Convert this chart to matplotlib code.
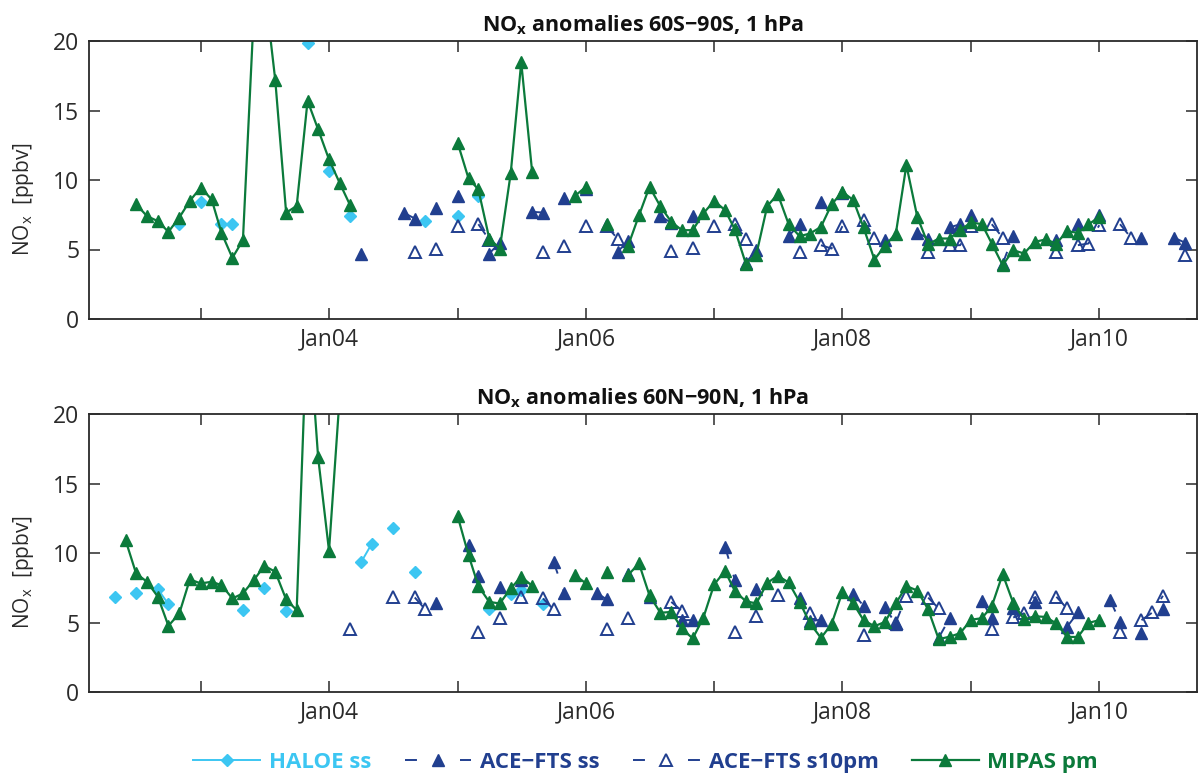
import numpy as np
import pandas as pd
import matplotlib
matplotlib.use("Agg")
import matplotlib.pyplot as plt
import matplotlib.dates as mdates
from matplotlib.lines import Line2D
from matplotlib.ticker import FuncFormatter

nan = np.nan
FONT = ["Open Sans", "DejaVu Sans"]
plt.rcParams["font.family"] = FONT
plt.rcParams["mathtext.fontset"] = "custom"
plt.rcParams["mathtext.rm"] = "Open Sans"
plt.rcParams["mathtext.bf"] = "Open Sans:bold"
plt.rcParams["mathtext.it"] = "Open Sans:italic"
plt.rcParams["lines.scale_dashes"] = False

# ---------------- data (NOx anomalies, ppbv, monthly) ----------------
# MIPAS: consecutive months from the given start, nan = no data
sh_mipas_start = "2002-07"
sh_mipas = [8.26, 7.40, 7.04, 6.27, 7.30, 8.50,                       # 2002 Jul-Dec
            9.46, 8.60, 6.20, 4.40, 5.67, 22.0, 24.0, 17.2, 7.64, 8.14, 15.7, 13.64,  # 2003
            11.48, 9.75, 8.19, nan, nan, nan, nan, nan, nan, nan, nan, nan,           # 2004
            12.68, 10.11, 9.32, 5.79, 5.07, 10.47, 18.47, 10.59, nan, nan, nan, 8.86,  # 2005
            9.51, nan, 6.82, nan, 5.26, 7.45, 9.51, 8.10, 6.99, 6.39, 6.39, 7.59,      # 2006
            8.50, 7.83, 6.44, 3.99, 4.64, 8.12, 8.98, 6.82, 5.96, 6.15, 6.63, 8.24,    # 2007
            9.15, 8.55, 6.59, 4.28, 5.26, 6.15, 11.07, 7.35, 5.37, 5.79, 5.79, 6.39,   # 2008
            6.95, 6.82, 5.43, 3.87, 4.95, 4.71, 5.55, 5.72, 5.43, 6.32, 6.20, 6.80,    # 2009
            7.35]                                                                       # 2010

nh_mipas_start = "2002-06"
nh_mipas = [10.93, 8.53, 7.93, 6.85, 4.76, 5.65, 8.10,                # 2002 Jun-Dec
            7.81, 7.93, 7.69, 6.73, 7.09, 8.05, 9.08, 8.65, 6.66, 5.89, 27.5, 16.89,  # 2003
            10.16, 21.5, nan, nan, nan, nan, nan, nan, nan, nan, nan, nan,            # 2004
            12.66, 9.85, 7.62, 6.48, 6.37, 7.45, 8.29, 7.64, nan, nan, nan, 8.41,     # 2005
            7.81, nan, 8.65, nan, 8.41, 9.25, 6.95, 5.70, 5.76, 4.57, 3.85, 5.33,     # 2006
            7.74, 8.70, 7.26, 6.53, 6.37, 7.85, 8.36, 7.88, 6.48, 4.93, 3.89, 4.88,   # 2007
            7.20, 6.37, 5.17, 4.73, 5.04, 6.37, 7.62, 7.30, 5.94, 3.80, 3.98, 4.23,   # 2008
            5.20, 5.31, 6.17, 8.48, 6.41, 5.22, 5.45, 5.40, 4.93, 3.96, 3.96, 4.97,   # 2009
            5.17]                                                                      # 2010

# HALOE sunset
sh_haloe_months = ["2002-11", "2003-01", "2003-03", "2003-04", "2003-11", "2004-01",
                   "2004-03", "2004-10", "2005-01", "2005-03"]
sh_haloe = [6.87, 8.43, 6.87, 6.80, 19.84, 10.64, 7.40, 7.04, 7.42, 8.86]

nh_haloe_months = ["2002-05", "2002-07", "2002-09", "2002-10", "2003-05", "2003-07",
                   "2003-09", "2004-04", "2004-05", "2004-07", "2004-09", "2005-04",
                   "2005-06", "2005-07", "2005-09"]
nh_haloe = [6.85, 7.13, 7.40, 6.32, 5.89, 7.49, 5.84, 9.32, 10.64, 11.77, 8.65,
            5.94, 7.04, 7.33, 6.32]

# ACE-FTS sunset
sh_ace_ss_months = ["2004-04", "2004-08", "2004-09", "2004-11", "2005-01", "2005-04",
                    "2005-05", "2005-08", "2005-09", "2005-11", "2006-01", "2006-04",
                    "2006-05", "2006-08", "2006-09", "2006-11", "2007-04", "2007-05",
                    "2007-08", "2007-09", "2007-11", "2008-01", "2008-05", "2008-08",
                    "2008-09", "2008-11", "2008-12", "2009-01", "2009-04", "2009-05",
                    "2009-09", "2009-11", "2010-01", "2010-05", "2010-08", "2010-09"]
sh_ace_ss = [4.66, 7.64, 7.23, 7.95, 8.86, 4.71, 5.50, 7.71, 7.66, 8.72, 9.32, 4.83,
             5.62, 7.40, 6.92, 7.40, 4.05, 4.95, 5.96, 6.82, 8.45, 9.03, 5.67, 6.22,
             5.79, 6.60, 6.81, 7.47, 3.99, 5.96, 5.67, 6.87, 7.47, 5.86, 5.86, 5.50]

nh_ace_ss_months = ["2004-11", "2005-02", "2005-03", "2005-05", "2005-07", "2005-10",
                    "2005-11", "2006-02", "2006-03", "2006-05", "2006-07", "2006-10",
                    "2006-11", "2007-02", "2007-03", "2007-05", "2007-09", "2007-10",
                    "2007-11", "2008-02", "2008-03", "2008-05", "2008-06", "2008-10",
                    "2008-11", "2009-02", "2009-03", "2009-05", "2009-07", "2009-10",
                    "2009-11", "2010-02", "2010-03", "2010-05", "2010-07"]
nh_ace_ss = [6.41, 10.57, 8.34, 7.52, 8.05, 9.37, 7.09, 7.13, 6.66, 8.50, 6.85, 5.17,
             5.17, 10.45, 8.05, 7.42, 6.77, 5.09, 5.20, 7.05, 6.21, 6.12, 4.88, 3.90,
             5.31, 6.58, 5.29, 6.01, 6.48, 4.68, 5.72, 6.61, 5.04, 4.25, 5.94]

# ACE-FTS sunset, 10 pm local time
sh_ace_10_months = ["2004-09", "2004-11", "2005-01", "2005-03", "2005-04", "2005-09",
                    "2005-11", "2006-01", "2006-03", "2006-04", "2006-09", "2006-11",
                    "2007-01", "2007-03", "2007-04", "2007-09", "2007-11", "2007-12",
                    "2008-01", "2008-03", "2008-04", "2008-09", "2008-11", "2008-12",
                    "2009-01", "2009-03", "2009-04", "2009-09", "2009-11", "2009-12",
                    "2010-01", "2010-03", "2010-04", "2010-09"]
sh_ace_10 = [4.83, 5.07, 6.68, 6.82, 5.70, 4.83, 5.24, 6.68, 6.66, 5.79, 4.90, 5.14,
             6.68, 6.82, 5.79, 4.83, 5.31, 5.07, 6.68, 7.11, 5.86, 4.83, 5.31, 5.31,
             6.72, 6.82, 5.86, 4.83, 5.31, 5.43, 6.75, 6.82, 5.86, 4.59]

nh_ace_10_months = ["2004-03", "2004-07", "2004-09", "2004-10", "2005-03", "2005-05",
                    "2005-07", "2005-09", "2005-10", "2006-03", "2006-05", "2006-09",
                    "2006-10", "2007-03", "2007-05", "2007-07", "2007-10", "2008-03",
                    "2008-06", "2008-07", "2008-09", "2008-10", "2009-03", "2009-05",
                    "2009-06", "2009-07", "2009-09", "2009-10", "2010-03", "2010-05",
                    "2010-06", "2010-07"]
nh_ace_10 = [4.50, 6.85, 6.80, 5.94, 4.32, 5.29, 6.85, 6.73, 5.94, 4.50, 5.31, 6.48,
             5.84, 4.32, 5.45, 6.97, 5.69, 4.08, 5.00, 6.89, 6.79, 6.01, 4.54, 5.36,
             5.65, 6.85, 6.85, 6.01, 4.32, 5.17, 5.72, 6.92]

panel_titles = [r"NO$_\mathbf{x}$ anomalies 60S" + "\u2212" + "90S, 1 hPa",
                r"NO$_\mathbf{x}$ anomalies 60N" + "\u2212" + "90N, 1 hPa"]
legend_labels = ["HALOE ss", "ACE\u2212FTS ss", "ACE\u2212FTS s10pm", "MIPAS pm"]

C_HALOE = "#3cc6f2"
C_ACE = "#213f8f"
C_MIPAS = "#0b7a3b"
C_AX = "#2a2a2a"


def from_start(start, vals):
    idx = pd.date_range(start, periods=len(vals), freq="MS")
    return pd.Series(vals, index=idx, dtype=float)


def from_months(months, vals):
    s = pd.Series(vals, index=pd.to_datetime(months), dtype=float)
    full = pd.date_range(s.index.min(), s.index.max(), freq="MS")
    return s.reindex(full)


panels = [
    dict(haloe=from_months(sh_haloe_months, sh_haloe),
         ss=from_months(sh_ace_ss_months, sh_ace_ss),
         s10=from_months(sh_ace_10_months, sh_ace_10),
         mipas=from_start(sh_mipas_start, sh_mipas)),
    dict(haloe=from_months(nh_haloe_months, nh_haloe),
         ss=from_months(nh_ace_ss_months, nh_ace_ss),
         s10=from_months(nh_ace_10_months, nh_ace_10),
         mipas=from_start(nh_mipas_start, nh_mipas)),
]

W, H = 1198, 776
fig = plt.figure(figsize=(W / 100, H / 100), dpi=100)
ax_left, ax_right = 89, 1197
ax_boxes = [(41, 319), (414, 692)]

DASH = (9, 12)
haloe_kw = dict(color=C_HALOE, lw=1.4, marker="D", ms=6.5, mfc=C_HALOE, mec=C_HALOE)
ss_kw = dict(color=C_ACE, lw=1.4, linestyle=(0, DASH), marker="^", ms=8.5,
             mfc=C_ACE, mec=C_ACE)
s10_kw = dict(color=C_ACE, lw=1.4, linestyle=(0, DASH), marker="^", ms=8,
              mfc="none", mec=C_ACE, mew=1.4)
mipas_kw = dict(color=C_MIPAS, lw=1.6, marker="^", ms=8.5, mfc=C_MIPAS, mec=C_MIPAS)

xmin = pd.Timestamp("2002-02-17")
xmax = pd.Timestamp("2010-10-06")
years = [pd.Timestamp(f"{y}-01-01") for y in range(2003, 2011)]

TICK_FS = 16.5


def year_label(v, pos):
    d = mdates.num2date(v)
    return d.strftime("Jan%y") if d.year % 2 == 0 else ""


for i, (p, (ytop, ybot)) in enumerate(zip(panels, ax_boxes)):
    ax = fig.add_axes([ax_left / W, 1 - ybot / H, (ax_right - ax_left) / W,
                       (ybot - ytop) / H])
    ax.plot(p["haloe"].index, p["haloe"].values, **haloe_kw)
    ax.plot(p["ss"].index, p["ss"].values, **ss_kw)
    ax.plot(p["s10"].index, p["s10"].values, **s10_kw)
    ax.plot(p["mipas"].index, p["mipas"].values, **mipas_kw)

    ax.set_xlim(xmin, xmax)
    ax.set_ylim(0, 20)
    ax.set_yticks([0, 5, 10, 15, 20])
    ax.set_xticks(years)
    ax.xaxis.set_major_formatter(FuncFormatter(year_label))
    ax.tick_params(direction="in", length=8, width=1.1, color=C_AX,
                   labelcolor=C_AX, labelsize=TICK_FS, top=True, right=True)
    ax.tick_params(axis="x", pad=6)
    ax.tick_params(axis="y", pad=7)
    for sp in ax.spines.values():
        sp.set_color(C_AX)
        sp.set_linewidth(1.3)
    ax.set_ylabel(r"NO$_\mathrm{x}$  [ppbv]", fontsize=15, color=C_AX)
    # right edge of the rotated label sits about 53 px left of the axes
    ax.yaxis.set_label_coords(-53 / (ax_right - ax_left), 0.43)
    ax.set_title(panel_titles[i], fontsize=15.5, fontweight="bold", color="#111111",
                 pad=7)

# legend samples: dashed ACE handles show one dash on each side of the marker
LEG_DASH = (0, (8.6, 31))
handles = [
    Line2D([], [], **haloe_kw),
    Line2D([], [], **{**ss_kw, "linestyle": LEG_DASH}),
    Line2D([], [], **{**s10_kw, "linestyle": LEG_DASH}),
    Line2D([], [], **mipas_kw),
]
leg = fig.legend(handles, legend_labels, loc="center", bbox_to_anchor=(0.539, 0.018),
                 ncol=4, frameon=False, handlelength=3.0, handletextpad=0.4,
                 columnspacing=1.5, prop=dict(family=FONT, size=16, weight="bold"))
for txt, c in zip(leg.get_texts(), [C_HALOE, C_ACE, C_ACE, C_MIPAS]):
    txt.set_color(c)

fig.savefig("out.png", dpi=100)
